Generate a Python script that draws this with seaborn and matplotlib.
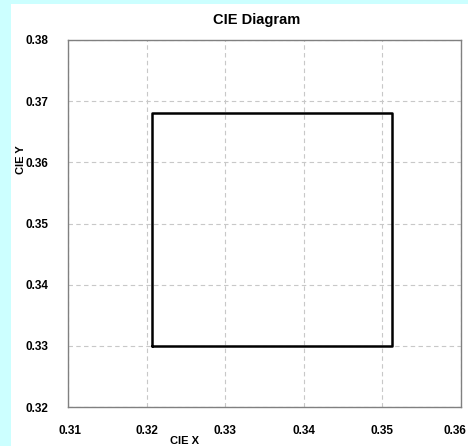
import matplotlib
matplotlib.use("Agg")
import matplotlib.pyplot as plt
import matplotlib.transforms as mtransforms
import seaborn as sns
import pandas as pd
from matplotlib.patches import Rectangle

# Chromaticity quadrangle (closed polygon)
rect_x = [0.3207, 0.3512, 0.3512, 0.3207, 0.3207]
rect_y = [0.3299, 0.3299, 0.3681, 0.3681, 0.3299]

x_ticks = [0.31, 0.32, 0.33, 0.34, 0.35, 0.36]
y_ticks = [0.32, 0.33, 0.34, 0.35, 0.36, 0.37, 0.38]

sns.set_theme(style="white")
plt.rcParams["font.family"] = ["Liberation Sans", "DejaVu Sans"]
plt.rcParams["text.color"] = "black"
plt.rcParams["xtick.color"] = "black"
plt.rcParams["ytick.color"] = "black"

W, H = 468, 446
fig = plt.figure(figsize=(W / 100, H / 100), dpi=100, facecolor="#ccffff")
# white panel behind the chart
fig.patches.append(Rectangle((11 / W, 0), 1 - 11 / W, 1 - 4 / H,
                             transform=fig.transFigure, facecolor="white",
                             edgecolor="none", zorder=-10))

ax = fig.add_axes([68 / W, 1 - 407 / H, (461 - 68) / W, (407 - 40) / H])
ax.set_zorder(1)
ax.set_facecolor("white")

df = pd.DataFrame({"x": rect_x, "y": rect_y})
sns.lineplot(data=df, x="x", y="y", sort=False, estimator=None,
             color="black", linewidth=1.8, ax=ax)

ax.set_xlim(x_ticks[0], x_ticks[-1])
ax.set_ylim(y_ticks[0], y_ticks[-1])
ax.set_xticks(x_ticks)
ax.set_yticks(y_ticks)
ax.set_xticklabels([f"{v:.2f}" for v in x_ticks], fontsize=8.5, fontweight="bold",
                   color="black")
ax.set_yticklabels([f"{v:.2f}" for v in y_ticks], fontsize=8.5, fontweight="bold",
                   color="black")
ax.tick_params(axis="x", length=0, pad=13)
ax.tick_params(axis="y", length=0, pad=14)
# keep the last x label inside the panel
last = ax.get_xticklabels()[-1]
last.set_transform(last.get_transform() +
                   mtransforms.ScaledTranslation(-6 / 100, 0, fig.dpi_scale_trans))
first = ax.get_xticklabels()[0]
first.set_transform(first.get_transform() +
                    mtransforms.ScaledTranslation(2 / 100, 0, fig.dpi_scale_trans))

ax.grid(True, color="#c8c8c8", linestyle=(0, (4, 3)), linewidth=0.8)
for s in ax.spines.values():
    s.set_color("#808080")
    s.set_linewidth(1.0)
ax.set_xlabel("")
ax.set_ylabel("")

fig.text(257 / W, 1 - 20 / H, "CIE Diagram", ha="center", va="center",
         fontsize=10.5, fontweight="bold", color="black")
fig.text(185 / W, 1 - 441 / H, "CIE X", ha="center", va="center",
         fontsize=8, fontweight="bold", color="black")
fig.text(21 / W, 1 - 160 / H, "CIE Y", ha="center", va="center",
         rotation=90, fontsize=8, fontweight="bold", color="black")

fig.savefig("out.png", dpi=100, facecolor=fig.get_facecolor())
